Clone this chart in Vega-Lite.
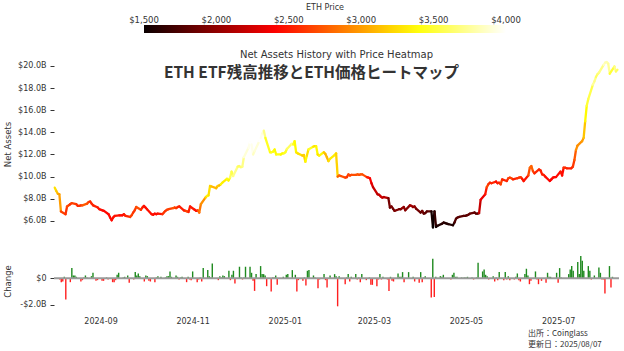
{
"$schema": "https://vega.github.io/schema/vega-lite/v6.json",
"background": "white",
"padding": {"left": 3, "top": 4, "right": 4, "bottom": 1},
"config": {"view": {"stroke": null}, "font": "DejaVu Sans", "axis": {"labelFont": "DejaVu Sans", "titleFont": "DejaVu Sans", "labelColor": "#333", "titleColor": "#333", "titleFontWeight": "normal", "grid": false}},
"title": {"text": "ETH ETF残高推移とETH価格ヒートマップ", "font": "Noto Sans CJK JP", "fontSize": 15.5, "fontWeight": "bold", "color": "#333", "anchor": "middle", "frame": "bounds", "offset": -77},
"resolve": {"scale": {"color": "independent", "x": "independent", "y": "independent"}, "legend": {"color": "independent"}},
"spacing": 21,
"datasets": {"eth": [
{"d":"2024-08-05","a":9.0,"c":-0.1,"p":3250},{"d":"2024-08-06","a":8.7,"c":-0.3,"p":3150},{"d":"2024-08-07","a":8.45,"c":-0.25,"p":3050},{"d":"2024-08-08","a":8.4,"c":0.1,"p":3000},{"d":"2024-08-09","a":6.85,"c":-1.6,"p":2650},
{"d":"2024-08-12","a":6.6,"c":-0.3,"p":2600},{"d":"2024-08-13","a":7.3,"c":0.75,"p":2700},{"d":"2024-08-14","a":7.4,"c":0.2,"p":2650},{"d":"2024-08-15","a":7.5,"c":0.2,"p":2600},{"d":"2024-08-16","a":7.6,"c":0.1,"p":2650},
{"d":"2024-08-19","a":7.5,"c":-0.25,"p":2600},{"d":"2024-08-20","a":7.35,"c":-0.15,"p":2550},{"d":"2024-08-21","a":7.35,"c":0.05,"p":2600},{"d":"2024-08-22","a":7.4,"c":0.2,"p":2620},{"d":"2024-08-23","a":7.4,"c":0.05,"p":2750},
{"d":"2024-08-26","a":7.55,"c":0.15,"p":2700},{"d":"2024-08-27","a":7.7,"c":0.4,"p":2650},{"d":"2024-08-28","a":7.75,"c":-0.05,"p":2550},{"d":"2024-08-29","a":7.55,"c":-0.2,"p":2560},{"d":"2024-08-30","a":7.4,"c":-0.15,"p":2530},
{"d":"2024-09-02","a":7.2,"c":-0.2,"p":2500},{"d":"2024-09-03","a":7.05,"c":-0.2,"p":2470},{"d":"2024-09-04","a":7.0,"c":-0.05,"p":2460},{"d":"2024-09-05","a":6.95,"c":0.05,"p":2450},{"d":"2024-09-06","a":6.9,"c":-0.1,"p":2430},
{"d":"2024-09-09","a":6.6,"c":-0.3,"p":2450},{"d":"2024-09-10","a":6.3,"c":-0.3,"p":2440},{"d":"2024-09-11","a":6.05,"c":-0.15,"p":2450},{"d":"2024-09-12","a":6.3,"c":0.25,"p":2470},{"d":"2024-09-13","a":6.45,"c":0.4,"p":2480},
{"d":"2024-09-16","a":6.5,"c":0.05,"p":2450},{"d":"2024-09-17","a":6.5,"c":0.1,"p":2460},{"d":"2024-09-18","a":6.5,"c":-0.05,"p":2450},{"d":"2024-09-19","a":6.6,"c":0.2,"p":2500},{"d":"2024-09-20","a":6.45,"c":-0.35,"p":2550},
{"d":"2024-09-23","a":6.35,"c":-0.1,"p":2650},{"d":"2024-09-24","a":6.5,"c":0.45,"p":2650},{"d":"2024-09-25","a":6.75,"c":0.2,"p":2600},{"d":"2024-09-26","a":6.95,"c":0.35,"p":2630},{"d":"2024-09-27","a":7.25,"c":0.15,"p":2700},
{"d":"2024-09-30","a":7.0,"c":-0.25,"p":2600},{"d":"2024-10-01","a":7.2,"c":0.2,"p":2500},{"d":"2024-10-02","a":7.35,"c":0.15,"p":2470},{"d":"2024-10-03","a":7.2,"c":-0.2,"p":2450},{"d":"2024-10-04","a":7.05,"c":-0.25,"p":2470},
{"d":"2024-10-07","a":6.6,"c":-0.3,"p":2460},{"d":"2024-10-08","a":6.55,"c":0.05,"p":2470},{"d":"2024-10-09","a":6.65,"c":0.15,"p":2450},{"d":"2024-10-10","a":6.6,"c":-0.05,"p":2450},{"d":"2024-10-11","a":6.65,"c":0.1,"p":2480},
{"d":"2024-10-14","a":6.6,"c":0.05,"p":2600},{"d":"2024-10-15","a":6.75,"c":0.15,"p":2620},{"d":"2024-10-16","a":6.9,"c":0.15,"p":2600},{"d":"2024-10-17","a":7.0,"c":0.5,"p":2650},{"d":"2024-10-18","a":7.05,"c":0.1,"p":2650},
{"d":"2024-10-21","a":7.15,"c":0.2,"p":2750},{"d":"2024-10-22","a":7.2,"c":0.1,"p":2650},{"d":"2024-10-23","a":7.15,"c":-0.1,"p":2600},{"d":"2024-10-24","a":7.25,"c":0.05,"p":2550},{"d":"2024-10-25","a":7.3,"c":0.1,"p":2520},
{"d":"2024-10-28","a":6.95,"c":-0.3,"p":2500},{"d":"2024-10-29","a":6.9,"c":0.1,"p":2630},{"d":"2024-10-30","a":6.85,"c":-0.1,"p":2680},{"d":"2024-10-31","a":6.8,"c":-0.15,"p":2520},{"d":"2024-11-01","a":7.3,"c":0.5,"p":2500},
{"d":"2024-11-04","a":7.0,"c":-0.3,"p":2470},{"d":"2024-11-05","a":6.9,"c":-0.1,"p":2450},{"d":"2024-11-06","a":6.95,"c":0.05,"p":2700},{"d":"2024-11-07","a":6.75,"c":-0.25,"p":2850},{"d":"2024-11-08","a":7.5,"c":0.75,"p":2950},
{"d":"2024-11-11","a":8.1,"c":0.6,"p":3200},{"d":"2024-11-12","a":8.25,"c":0.15,"p":3350},{"d":"2024-11-13","a":8.3,"c":0.05,"p":3250},{"d":"2024-11-14","a":9.15,"c":1.1,"p":3200},{"d":"2024-11-15","a":9.1,"c":-0.05,"p":3100},
{"d":"2024-11-18","a":8.95,"c":-0.15,"p":3100},{"d":"2024-11-19","a":9.15,"c":0.15,"p":3200},{"d":"2024-11-20","a":9.2,"c":0.05,"p":3100},{"d":"2024-11-21","a":9.3,"c":0.2,"p":3350},{"d":"2024-11-22","a":9.45,"c":0.15,"p":3300},
{"d":"2024-11-25","a":9.8,"c":0.55,"p":3400},{"d":"2024-11-26","a":9.65,"c":-0.15,"p":3350},{"d":"2024-11-27","a":9.9,"c":0.25,"p":3600},{"d":"2024-11-28","a":10.45,"c":0.55,"p":3550},{"d":"2024-11-29","a":10.05,"c":-0.4,"p":3700},
{"d":"2024-12-02","a":10.9,"c":0.85,"p":3600},{"d":"2024-12-03","a":10.95,"c":0.05,"p":3600},{"d":"2024-12-04","a":10.85,"c":-0.1,"p":3650},{"d":"2024-12-05","a":10.9,"c":0.05,"p":3700},{"d":"2024-12-06","a":11.75,"c":0.85,"p":3900},
{"d":"2024-12-09","a":12.6,"c":0.85,"p":3950},{"d":"2024-12-10","a":13.1,"c":0.4,"p":4000},{"d":"2024-12-11","a":12.9,"c":-0.2,"p":3950},{"d":"2024-12-12","a":12.0,"c":-0.95,"p":3850},{"d":"2024-12-13","a":12.3,"c":0.3,"p":3900},
{"d":"2024-12-16","a":13.2,"c":0.9,"p":4000},{"d":"2024-12-17","a":13.5,"c":0.3,"p":3950},{"d":"2024-12-18","a":13.9,"c":0.3,"p":3900},{"d":"2024-12-19","a":14.15,"c":0.2,"p":3700},{"d":"2024-12-20","a":13.5,"c":-0.6,"p":3450},
{"d":"2024-12-23","a":12.2,"c":-1.0,"p":3400},{"d":"2024-12-24","a":12.2,"c":0.05,"p":3450},{"d":"2024-12-25","a":12.25,"c":0.05,"p":3400},{"d":"2024-12-26","a":12.45,"c":0.2,"p":3350},{"d":"2024-12-27","a":12.0,"c":-0.5,"p":3400},
{"d":"2024-12-30","a":12.0,"c":0.02,"p":3350},{"d":"2024-12-31","a":12.1,"c":0.1,"p":3350},{"d":"2025-01-01","a":12.1,"c":0.0,"p":3450},{"d":"2025-01-02","a":12.2,"c":0.25,"p":3450},{"d":"2025-01-03","a":12.5,"c":0.3,"p":3600},
{"d":"2025-01-06","a":12.95,"c":0.6,"p":3700},{"d":"2025-01-07","a":12.9,"c":-0.05,"p":3450},{"d":"2025-01-08","a":13.2,"c":0.25,"p":3350},{"d":"2025-01-09","a":12.2,"c":-1.0,"p":3300},{"d":"2025-01-10","a":12.1,"c":-0.15,"p":3250},
{"d":"2025-01-13","a":11.9,"c":-0.2,"p":3150},{"d":"2025-01-14","a":11.95,"c":0.05,"p":3200},{"d":"2025-01-15","a":11.35,"c":-0.55,"p":3350},{"d":"2025-01-16","a":11.9,"c":0.55,"p":3250},{"d":"2025-01-17","a":12.45,"c":0.6,"p":3450},
{"d":"2025-01-20","a":12.7,"c":0.2,"p":3300},{"d":"2025-01-21","a":12.75,"c":0.05,"p":3250},{"d":"2025-01-22","a":12.75,"c":0.0,"p":3350},{"d":"2025-01-23","a":12.0,"c":-0.75,"p":3250},{"d":"2025-01-24","a":11.9,"c":-0.1,"p":3350},
{"d":"2025-01-27","a":12.2,"c":0.3,"p":3150},{"d":"2025-01-28","a":12.05,"c":-0.15,"p":3100},{"d":"2025-01-29","a":11.75,"c":-0.7,"p":3100},{"d":"2025-01-30","a":11.4,"c":-0.05,"p":3250},{"d":"2025-01-31","a":11.6,"c":0.2,"p":3300},
{"d":"2025-02-03","a":11.95,"c":0.3,"p":3300},{"d":"2025-02-04","a":12.1,"c":0.15,"p":3200},{"d":"2025-02-05","a":10.0,"c":-2.1,"p":2750},{"d":"2025-02-06","a":10.1,"c":0.15,"p":2800},{"d":"2025-02-07","a":10.05,"c":-0.05,"p":2700},
{"d":"2025-02-10","a":9.9,"c":-0.45,"p":2650},{"d":"2025-02-11","a":9.95,"c":0.05,"p":2600},{"d":"2025-02-12","a":10.2,"c":0.3,"p":2700},{"d":"2025-02-13","a":10.1,"c":-0.25,"p":2650},{"d":"2025-02-14","a":10.15,"c":0.1,"p":2700},
{"d":"2025-02-17","a":10.15,"c":0.3,"p":2700},{"d":"2025-02-18","a":10.2,"c":-0.1,"p":2750},{"d":"2025-02-19","a":10.15,"c":0.05,"p":2700},{"d":"2025-02-20","a":10.2,"c":-0.3,"p":2750},{"d":"2025-02-21","a":10.2,"c":0.3,"p":2700},
{"d":"2025-02-24","a":9.95,"c":-0.15,"p":2500},{"d":"2025-02-25","a":9.9,"c":-0.05,"p":2500},{"d":"2025-02-26","a":9.85,"c":0.05,"p":2400},{"d":"2025-02-27","a":9.4,"c":-0.5,"p":2300},{"d":"2025-02-28","a":9.05,"c":-0.5,"p":2200},
{"d":"2025-03-03","a":8.4,"c":-0.6,"p":2150},{"d":"2025-03-04","a":8.35,"c":-0.1,"p":2200},{"d":"2025-03-05","a":8.2,"c":0.3,"p":2250},{"d":"2025-03-06","a":8.1,"c":-0.1,"p":2200},{"d":"2025-03-07","a":8.15,"c":0.1,"p":2150},
{"d":"2025-03-10","a":8.05,"c":-0.1,"p":1900},{"d":"2025-03-11","a":7.2,"c":-0.95,"p":1880},{"d":"2025-03-12","a":7.3,"c":0.1,"p":1920},{"d":"2025-03-13","a":7.1,"c":-0.2,"p":1870},{"d":"2025-03-14","a":6.9,"c":-0.25,"p":1930},
{"d":"2025-03-17","a":7.05,"c":0.35,"p":1900},{"d":"2025-03-18","a":7.05,"c":0.1,"p":1930},{"d":"2025-03-19","a":7.15,"c":0.1,"p":2050},{"d":"2025-03-20","a":7.25,"c":0.45,"p":1980},{"d":"2025-03-21","a":6.95,"c":-0.3,"p":1960},
{"d":"2025-03-24","a":7.4,"c":0.45,"p":2080},{"d":"2025-03-25","a":7.35,"c":-0.05,"p":2070},{"d":"2025-03-26","a":7.25,"c":-0.05,"p":2010},{"d":"2025-03-27","a":7.3,"c":0.1,"p":2000},{"d":"2025-03-28","a":7.1,"c":-0.25,"p":1890},
{"d":"2025-03-31","a":6.75,"c":-0.35,"p":1820},{"d":"2025-04-01","a":6.9,"c":0.45,"p":1900},{"d":"2025-04-02","a":6.65,"c":-0.3,"p":1800},{"d":"2025-04-03","a":6.7,"c":0.05,"p":1810},{"d":"2025-04-04","a":6.85,"c":0.15,"p":1800},
{"d":"2025-04-07","a":6.85,"c":-0.05,"p":1550},{"d":"2025-04-08","a":5.4,"c":-1.45,"p":1480},{"d":"2025-04-09","a":6.85,"c":1.45,"p":1660},{"d":"2025-04-10","a":5.45,"c":-1.4,"p":1520},{"d":"2025-04-11","a":5.55,"c":0.1,"p":1580},
{"d":"2025-04-14","a":5.75,"c":0.15,"p":1620},{"d":"2025-04-15","a":5.85,"c":0.1,"p":1630},{"d":"2025-04-16","a":5.8,"c":0.25,"p":1580},{"d":"2025-04-17","a":5.75,"c":-0.05,"p":1590},{"d":"2025-04-18","a":5.7,"c":-0.05,"p":1590},
{"d":"2025-04-21","a":5.6,"c":-0.1,"p":1580},{"d":"2025-04-22","a":5.85,"c":0.25,"p":1750},{"d":"2025-04-23","a":6.2,"c":0.4,"p":1770},{"d":"2025-04-24","a":6.3,"c":0.1,"p":1800},{"d":"2025-04-25","a":6.35,"c":0.1,"p":1790},
{"d":"2025-04-28","a":6.45,"c":0.05,"p":1800},{"d":"2025-04-29","a":6.45,"c":0.03,"p":1790},{"d":"2025-04-30","a":6.5,"c":0.05,"p":1800},{"d":"2025-05-01","a":6.55,"c":0.05,"p":1840},{"d":"2025-05-02","a":6.65,"c":0.1,"p":1840},
{"d":"2025-05-05","a":6.75,"c":0.05,"p":1820},{"d":"2025-05-06","a":6.65,"c":-0.1,"p":1800},{"d":"2025-05-07","a":6.65,"c":0.02,"p":1810},{"d":"2025-05-08","a":6.7,"c":0.05,"p":2200},{"d":"2025-05-09","a":7.9,"c":1.15,"p":2350},
{"d":"2025-05-12","a":8.4,"c":0.5,"p":2500},{"d":"2025-05-13","a":9.05,"c":0.65,"p":2680},{"d":"2025-05-14","a":9.3,"c":0.25,"p":2600},{"d":"2025-05-15","a":9.45,"c":0.15,"p":2550},{"d":"2025-05-16","a":9.4,"c":-0.1,"p":2550},
{"d":"2025-05-19","a":9.55,"c":0.15,"p":2450},{"d":"2025-05-20","a":9.4,"c":-0.25,"p":2520},{"d":"2025-05-21","a":9.45,"c":0.05,"p":2550},{"d":"2025-05-22","a":9.3,"c":-0.15,"p":2650},{"d":"2025-05-23","a":9.75,"c":0.45,"p":2530},
{"d":"2025-05-26","a":9.6,"c":-0.15,"p":2550},{"d":"2025-05-27","a":9.85,"c":0.45,"p":2650},{"d":"2025-05-28","a":9.9,"c":-0.1,"p":2620},{"d":"2025-05-29","a":9.85,"c":0.15,"p":2680},{"d":"2025-05-30","a":9.75,"c":-0.15,"p":2530},
{"d":"2025-06-02","a":9.85,"c":-0.1,"p":2600},{"d":"2025-06-03","a":9.9,"c":0.1,"p":2620},{"d":"2025-06-04","a":9.95,"c":0.35,"p":2610},{"d":"2025-06-05","a":9.8,"c":-0.15,"p":2480},{"d":"2025-06-06","a":9.6,"c":-0.25,"p":2480},
{"d":"2025-06-09","a":10.1,"c":0.3,"p":2700},{"d":"2025-06-10","a":10.8,"c":0.7,"p":2800},{"d":"2025-06-11","a":10.95,"c":0.2,"p":2770},{"d":"2025-06-12","a":10.5,"c":-0.45,"p":2650},{"d":"2025-06-13","a":10.3,"c":-0.2,"p":2550},
{"d":"2025-06-16","a":10.65,"c":0.5,"p":2550},{"d":"2025-06-17","a":10.55,"c":-0.1,"p":2520},{"d":"2025-06-18","a":10.2,"c":-0.45,"p":2530},{"d":"2025-06-19","a":10.15,"c":-0.05,"p":2520},{"d":"2025-06-20","a":10.0,"c":-0.2,"p":2450},
{"d":"2025-06-23","a":9.6,"c":-0.35,"p":2400},{"d":"2025-06-24","a":9.75,"c":0.4,"p":2420},{"d":"2025-06-25","a":9.9,"c":0.1,"p":2450},{"d":"2025-06-26","a":9.95,"c":0.1,"p":2440},{"d":"2025-06-27","a":9.95,"c":0.02,"p":2450},
{"d":"2025-06-30","a":10.45,"c":0.4,"p":2500},{"d":"2025-07-01","a":10.1,"c":-0.35,"p":2450},{"d":"2025-07-02","a":10.8,"c":0.75,"p":2600},{"d":"2025-07-03","a":10.8,"c":0.05,"p":2580},{"d":"2025-07-04","a":10.75,"c":-0.05,"p":2520},
{"d":"2025-07-07","a":10.75,"c":-0.05,"p":2550},{"d":"2025-07-08","a":10.9,"c":0.3,"p":2620},{"d":"2025-07-09","a":11.5,"c":0.65,"p":2750},{"d":"2025-07-10","a":12.4,"c":0.9,"p":2950},{"d":"2025-07-11","a":12.8,"c":0.55,"p":2950},
{"d":"2025-07-14","a":13.2,"c":1.2,"p":3000},{"d":"2025-07-15","a":13.5,"c":0.3,"p":3150},{"d":"2025-07-16","a":15.0,"c":1.65,"p":3350},{"d":"2025-07-17","a":16.4,"c":1.3,"p":3500},{"d":"2025-07-18","a":17.0,"c":0.55,"p":3550},
{"d":"2025-07-21","a":18.3,"c":0.9,"p":3750},{"d":"2025-07-22","a":18.6,"c":0.55,"p":3700},{"d":"2025-07-23","a":19.0,"c":-0.1,"p":3600},{"d":"2025-07-24","a":19.25,"c":-0.05,"p":3650},{"d":"2025-07-25","a":19.4,"c":0.2,"p":3700},
{"d":"2025-07-28","a":20.1,"c":0.8,"p":3850},{"d":"2025-07-29","a":20.3,"c":0.4,"p":3800},{"d":"2025-07-30","a":20.35,"c":-0.1,"p":3800},{"d":"2025-07-31","a":20.2,"c":-0.1,"p":3750},{"d":"2025-08-01","a":19.3,"c":-1.15,"p":3500},
{"d":"2025-08-04","a":19.95,"c":0.9,"p":3700},{"d":"2025-08-05","a":19.5,"c":-0.7,"p":3600},{"d":"2025-08-06","a":19.65,"c":0.1,"p":3650}
]},
"vconcat": [
{
"width": 565, "height": 177,
"title": {"text": "Net Assets History with Price Heatmap", "fontSize": 10, "fontWeight": "normal", "color": "#333", "font": "DejaVu Sans", "anchor": "middle", "frame": "group", "offset": -56},
"data": {"name": "eth"},
"transform": [{"window": [{"op": "lead", "field": "d", "as": "d2"}, {"op": "lead", "field": "a", "as": "a2"}], "sort": [{"field": "d", "order": "ascending"}]}, {"filter": "datum.d2 != null"}],
"mark": {"type": "rule", "strokeWidth": 2.3, "strokeCap": "round"},
"encoding": {
"x": {"field": "d", "type": "temporal", "scale": {"type": "utc", "domain": [{"year": 2024, "month": 8, "date": 4, "hours": 12, "utc": true}, {"year": 2025, "month": 8, "date": 7, "utc": true}]}, "axis": null},
"x2": {"field": "d2"},
"y": {"field": "a", "type": "quantitative", "scale": {"domain": [4.9, 20.9], "nice": false, "zero": false}, "axis": {"values": [6, 8, 10, 12, 14, 16, 18, 20], "labelExpr": "'$' + format(datum.value, '.1f') + 'B'", "title": "Net Assets", "titleFontSize": 8.5, "labelFontSize": 8, "tickSize": 4, "tickColor": "#333", "domain": false, "labelPadding": 4, "titleX": -47, "titleY": 88, "titleAngle": -90, "titleBaseline": "middle", "titleAlign": "center"}},
"y2": {"field": "a2"},
"color": {"field": "p", "type": "quantitative", "scale": {"domain": [1500, 2412, 3365, 4000], "range": ["#0a0000", "#ff0000", "#ffff00", "#ffffff"], "interpolate": "rgb", "clamp": true}, "legend": {"orient": "none", "legendX": 90, "legendY": -52, "direction": "horizontal", "gradientLength": 362, "gradientThickness": 8, "gradientStrokeWidth": 0, "title": "ETH Price", "titleAnchor": "middle", "titleFontSize": 8, "titleFontWeight": "normal", "titleColor": "#333", "titleFont": "DejaVu Sans", "titlePadding": 13, "labelFontSize": 8.5, "labelColor": "#333", "labelFont": "DejaVu Sans", "labelOffset": -17, "labelAlign": "center", "labelOverlap": false, "values": [1500, 2000, 2500, 3000, 3500, 4000], "format": "$,.0f", "encode": {"labels": {"update": {"align": {"value": "center"}}}}}}
}
},
{
"width": 565, "height": 55,
"title": {"text": ["出所：Coinglass", "更新日：2025/08/07"], "orient": "bottom", "anchor": "end", "align": "left", "dx": -92, "fontSize": 8, "font": "Noto Sans CJK JP", "fontWeight": "normal", "color": "#333", "offset": 5, "lineHeight": 11},
"layer": [
{"data": {"name": "eth"},
"mark": {"type": "bar", "width": 1.4},
"encoding": {
"x": {"field": "d", "type": "temporal", "scale": {"type": "utc", "domain": [{"year": 2024, "month": 8, "date": 4, "hours": 12, "utc": true}, {"year": 2025, "month": 8, "date": 7, "utc": true}]}, "axis": {"values": [{"year": 2024, "month": 9, "date": 1, "utc": true}, {"year": 2024, "month": 11, "date": 1, "utc": true}, {"year": 2025, "month": 1, "date": 1, "utc": true}, {"year": 2025, "month": 3, "date": 1, "utc": true}, {"year": 2025, "month": 5, "date": 1, "utc": true}, {"year": 2025, "month": 7, "date": 1, "utc": true}], "labelExpr": "utcFormat(datum.value, '%Y-%m')", "labelFontSize": 8, "ticks": false, "domain": false, "labelPadding": 8, "title": null}},
"y": {"field": "c", "type": "quantitative", "scale": {"domain": [-2.3, 1.8], "nice": false, "zero": false}, "axis": {"values": [-2, 0], "labelExpr": "datum.value == 0 ? '$0' : '-$' + format(-datum.value, '.1f') + 'B'", "title": "Change", "titleFontSize": 8.5, "labelFontSize": 8, "tickSize": 4, "tickColor": "#333", "domain": false, "labelPadding": 4, "titleX": -47, "titleY": 27, "titleAngle": -90, "titleBaseline": "middle", "titleAlign": "center"}},
"color": {"condition": {"test": "datum.c >= 0", "value": "#1f8a1f"}, "value": "#ff1f1f"}
}},
{"data": {"values": [{}]},
"mark": {"type": "rule", "color": "#9a9a9a", "strokeWidth": 2},
"encoding": {"y": {"datum": 0}}}
]
}
]
}
